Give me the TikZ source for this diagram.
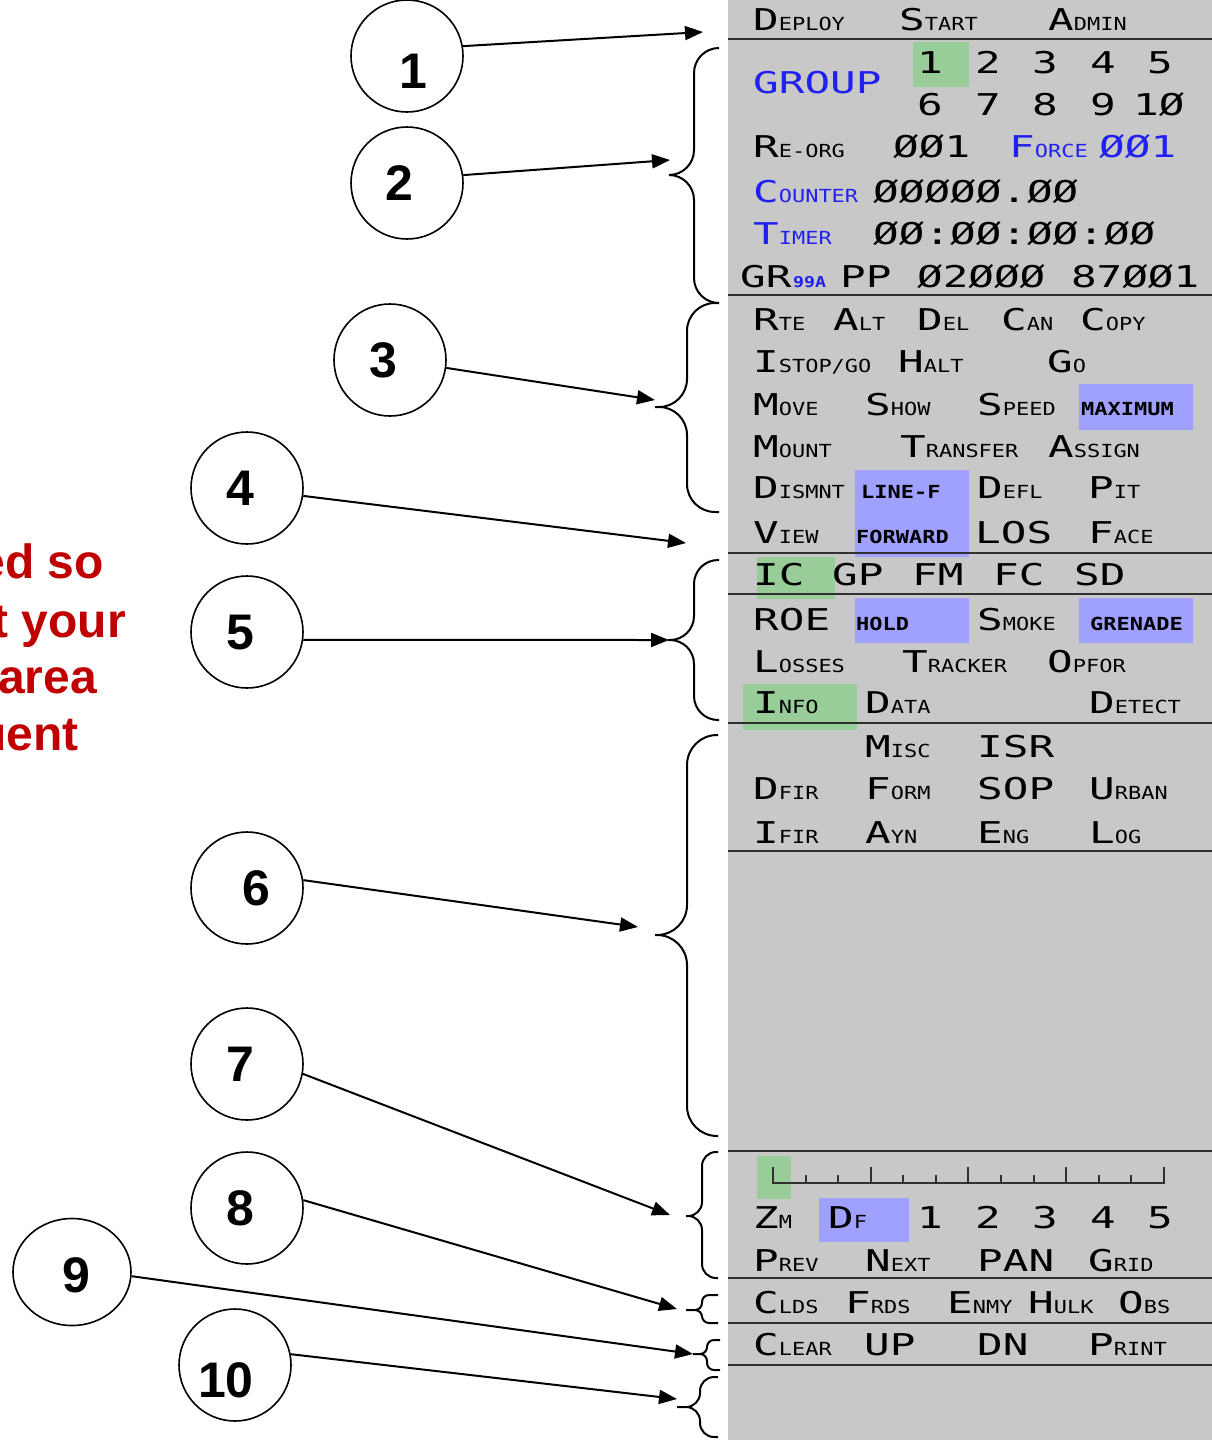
\documentclass[tikz,border=0pt]{standalone}
\usepackage{fontspec}
\usepackage{tikz}
\usetikzlibrary{arrows.meta,shapes.geometric}

\newfontfamily\panelFont[FakeStretch=1.42]{DejaVu Sans Mono}
\newfontfamily\panelSmall[FakeStretch=1.22]{DejaVu Sans Mono}
\newfontfamily\labelFont{Liberation Sans}

\definecolor{panelGray}{RGB}{200,200,200}
\definecolor{ruleGray}{RGB}{48,48,48}
\definecolor{panelBlue}{RGB}{32,32,240}
\definecolor{selGreen}{RGB}{152,204,152}
\definecolor{selBlue}{RGB}{160,160,255}
\definecolor{noteRed}{RGB}{192,0,0}

\newcommand{\bigFont}{\panelFont\fontsize{30}{30}\selectfont}
\newcommand{\smallFont}{\panelSmall\fontsize{18}{18}\selectfont}
\newcommand{\tinyFont}{\panelSmall\fontsize{15}{15}\selectfont}
\newcommand{\capWord}[2]{{\bigFont #1}{\smallFont #2}}
\newcommand{\calloutNum}[3]{\raisebox{#2}[\height][0pt]{\makebox[0pt]{\hspace{#1}#3}}}
\newcommand{\panelBrace}[7]{\draw[braceLine, rounded corners=#7] (#1,#2) -| (#5,#3) -- (#6,#3) (#6,#3) -- (#5,#3) |- (#1,#4);}

\tikzset{
  >={Triangle[length=18pt,width=14pt]},
  panelText/.style={anchor=base west, inner sep=0pt},
  callout/.style={circle, draw, line width=1.6pt, minimum size=112pt, inner sep=0pt, font=\labelFont\bfseries\fontsize{50}{50}\selectfont},
  panelRule/.style={draw=ruleGray, line width=2.5pt},
  rulerLine/.style={draw=ruleGray, line width=2.5pt},
  braceLine/.style={line width=2pt},
  note/.style={anchor=base east, inner sep=0pt, text=noteRed, font=\labelFont\bfseries\fontsize{48}{48}\selectfont},
}

\begin{document}
\begin{tikzpicture}[x=1pt, y=-1pt]
    \useasboundingbox (0,0) rectangle (1212,1440);
    \fill[white] (0,0) rectangle (1212,1440);
    \fill[panelGray] (728,0) rectangle (1212,1440);

    \fill[selGreen] (913,42) rectangle (969,87);
    \fill[selBlue] (1079,384) rectangle (1193,430);
    \fill[selBlue] (855,470) rectangle (969,557);
    \fill[selGreen] (757,557) rectangle (835,599);
    \fill[selBlue] (855,598) rectangle (969,643);
    \fill[selBlue] (1079,598) rectangle (1193,643);
    \fill[selGreen] (743,684) rectangle (857,730);
    \fill[selGreen] (757,1156) rectangle (791,1199);
    \fill[selBlue] (819,1198) rectangle (909,1242);

    \draw[panelRule] (728,39) -- (1212,39);
    \draw[panelRule] (728,295) -- (1212,295);
    \draw[panelRule] (728,553) -- (1212,553);
    \draw[panelRule] (728,594) -- (1212,594);
    \draw[panelRule] (728,723) -- (1212,723);
    \draw[panelRule] (728,851) -- (1212,851);
    \draw[panelRule] (728,1151) -- (1212,1151);
    \draw[panelRule] (728,1278) -- (1212,1278);
    \draw[panelRule] (728,1323) -- (1212,1323);
    \draw[panelRule] (728,1365) -- (1212,1365);

    \draw[rulerLine] (773,1167) -- (773,1183) -- (1164,1183) -- (1164,1167)
        (871,1167) -- (871,1183) (968,1167) -- (968,1183) (1066,1167) -- (1066,1183)
        (806,1175) -- (806,1183) (838,1175) -- (838,1183) (903,1175) -- (903,1183)
        (936,1175) -- (936,1183) (1001,1175) -- (1001,1183) (1034,1175) -- (1034,1183)
        (1099,1175) -- (1099,1183) (1131,1175) -- (1131,1183);

    \node[panelText] (deploy) at (753,30) {\capWord{D}{EPLOY}};
    \node[panelText] (start) at (899,30) {\capWord{S}{TART}};
    \node[panelText] (admin) at (1048,30) {\capWord{A}{DMIN}};

    \node[panelText, font=\bigFont, text=panelBlue] (group) at (753,93) {GROUP};
    \node[panelText, font=\bigFont] (grp1) at (917,73) {1};
    \node[panelText, font=\bigFont] (grp2) at (975,73) {2};
    \node[panelText, font=\bigFont] (grp3) at (1032,73) {3};
    \node[panelText, font=\bigFont] (grp4) at (1090,73) {4};
    \node[panelText, font=\bigFont] (grp5) at (1147,73) {5};
    \node[panelText, font=\bigFont] (grp6) at (917,115) {6};
    \node[panelText, font=\bigFont] (grp7) at (975,115) {7};
    \node[panelText, font=\bigFont] (grp8) at (1032,115) {8};
    \node[panelText, font=\bigFont] (grp9) at (1090,115) {9};
    \node[panelText, font=\bigFont] (grp10) at (1133,115) {1Ø};

    \node[panelText] (reOrg) at (753,157) {\capWord{R}{E-ORG}};
    \node[panelText, font=\bigFont] (reOrgVal) at (893,157) {ØØ1};
    \node[panelText, text=panelBlue] (force) at (1009,157) {\capWord{F}{ORCE}};
    \node[panelText, font=\bigFont, text=panelBlue] (forceVal) at (1099,157) {ØØ1};
    \node[panelText, text=panelBlue] (counter) at (753,202) {\capWord{C}{OUNTER}};
    \node[panelText, font=\bigFont] (counterVal) at (873,202) {ØØØØØ.ØØ};
    \node[panelText, text=panelBlue] (timer) at (753,244) {\capWord{T}{IMER}};
    \node[panelText, font=\bigFont] (timerVal) at (873,244) {ØØ:ØØ:ØØ:ØØ};
    \node[panelText, font=\bigFont] (grLabel) at (740,287) {GR};
    \node[panelText, font=\tinyFont\bfseries, text=panelBlue] (grSub) at (793,287) {99A};
    \node[panelText, font=\bigFont] (grVal) at (840,287) {PP Ø2ØØØ 87ØØ1};

    \node[panelText] (rte) at (753,330) {\capWord{R}{TE}};
    \node[panelText] (alt) at (833,330) {\capWord{A}{LT}};
    \node[panelText] (del) at (917,330) {\capWord{D}{EL}};
    \node[panelText] (can) at (1001,330) {\capWord{C}{AN}};
    \node[panelText] (copy) at (1080,330) {\capWord{C}{OPY}};
    \node[panelText] (istopGo) at (753,372) {\capWord{I}{STOP/GO}};
    \node[panelText] (halt) at (898,372) {\capWord{H}{ALT}};
    \node[panelText] (go) at (1047,372) {\capWord{G}{O}};
    \node[panelText] (move) at (753,415) {\capWord{M}{OVE}};
    \node[panelText] (show) at (865,415) {\capWord{S}{HOW}};
    \node[panelText] (speed) at (977,415) {\capWord{S}{PEED}};
    \node[panelText, font=\smallFont\bfseries] (maximum) at (1081,415) {MAXIMUM};
    \node[panelText] (mount) at (753,457) {\capWord{M}{OUNT}};
    \node[panelText] (transfer) at (900,457) {\capWord{T}{RANSFER}};
    \node[panelText] (assign) at (1048,457) {\capWord{A}{SSIGN}};
    \node[panelText] (dismnt) at (753,498) {\capWord{D}{ISMNT}};
    \node[panelText, font=\smallFont\bfseries] (lineF) at (861,498) {LINE-F};
    \node[panelText] (defl) at (977,498) {\capWord{D}{EFL}};
    \node[panelText] (pit) at (1088,498) {\capWord{P}{IT}};
    \node[panelText] (view) at (753,543) {\capWord{V}{IEW}};
    \node[panelText, font=\smallFont\bfseries] (forward) at (856,543) {FORWARD};
    \node[panelText, font=\bigFont] (los) at (975,543) {LOS};
    \node[panelText] (face) at (1088,543) {\capWord{F}{ACE}};

    \node[panelText, font=\bigFont] (ic) at (753,585) {IC};
    \node[panelText, font=\bigFont] (gp) at (832,585) {GP};
    \node[panelText, font=\bigFont] (fm) at (912,585) {FM};
    \node[panelText, font=\bigFont] (fc) at (993,585) {FC};
    \node[panelText, font=\bigFont] (sd) at (1074,585) {SD};
    \node[panelText, font=\bigFont] (roe) at (753,630) {ROE};
    \node[panelText, font=\smallFont\bfseries] (hold) at (856,630) {HOLD};
    \node[panelText] (smoke) at (977,630) {\capWord{S}{MOKE}};
    \node[panelText, font=\smallFont\bfseries] (grenade) at (1090,630) {GRENADE};
    \node[panelText] (losses) at (753,672) {\capWord{L}{OSSES}};
    \node[panelText] (tracker) at (902,672) {\capWord{T}{RACKER}};
    \node[panelText] (opfor) at (1047,672) {\capWord{O}{PFOR}};
    \node[panelText] (info) at (753,713) {\capWord{I}{NFO}};
    \node[panelText] (data) at (865,713) {\capWord{D}{ATA}};
    \node[panelText] (detect) at (1089,713) {\capWord{D}{ETECT}};

    \node[panelText] (misc) at (865,757) {\capWord{M}{ISC}};
    \node[panelText, font=\bigFont] (isr) at (977,757) {ISR};
    \node[panelText] (dfir) at (753,799) {\capWord{D}{FIR}};
    \node[panelText] (form) at (865,799) {\capWord{F}{ORM}};
    \node[panelText, font=\bigFont] (sop) at (977,799) {SOP};
    \node[panelText] (urban) at (1089,799) {\capWord{U}{RBAN}};
    \node[panelText] (ifir) at (753,843) {\capWord{I}{FIR}};
    \node[panelText] (ayn) at (865,843) {\capWord{A}{YN}};
    \node[panelText] (eng) at (977,843) {\capWord{E}{NG}};
    \node[panelText] (log) at (1089,843) {\capWord{L}{OG}};

    \node[panelText] (zm) at (753,1228) {\capWord{Z}{M}};
    \node[panelText] (df) at (828,1228) {\capWord{D}{F}};
    \node[panelText, font=\bigFont] (zoom1) at (917,1228) {1};
    \node[panelText, font=\bigFont] (zoom2) at (975,1228) {2};
    \node[panelText, font=\bigFont] (zoom3) at (1032,1228) {3};
    \node[panelText, font=\bigFont] (zoom4) at (1090,1228) {4};
    \node[panelText, font=\bigFont] (zoom5) at (1147,1228) {5};
    \node[panelText] (prev) at (753,1271) {\capWord{P}{REV}};
    \node[panelText] (next) at (865,1271) {\capWord{N}{EXT}};
    \node[panelText, font=\bigFont] (pan) at (977,1271) {PAN};
    \node[panelText] (grid) at (1088,1271) {\capWord{G}{RID}};
    \node[panelText] (clds) at (753,1313) {\capWord{C}{LDS}};
    \node[panelText] (frds) at (845,1313) {\capWord{F}{RDS}};
    \node[panelText] (enmy) at (947,1313) {\capWord{E}{NMY}};
    \node[panelText] (hulk) at (1028,1313) {\capWord{H}{ULK}};
    \node[panelText] (obs) at (1118,1313) {\capWord{O}{BS}};
    \node[panelText] (clear) at (753,1355) {\capWord{C}{LEAR}};
    \node[panelText, font=\bigFont] (up) at (864,1355) {UP};
    \node[panelText, font=\bigFont] (dn) at (977,1355) {DN};
    \node[panelText] (print) at (1088,1355) {\capWord{P}{RINT}};

    \node[note] (note1) at (104,578) {ed so};
    \node[note] (note2) at (126,637) {t your};
    \node[note] (note3) at (97,693) {area};
    \node[note] (note4) at (79,750) {uent};

    \node[callout] (callout1) at (407,56) {\calloutNum{12pt}{-15pt}{1}};
    \node[callout] (callout2) at (407,183) {\calloutNum{-16pt}{0pt}{2}};
    \node[callout] (callout3) at (390,360) {\calloutNum{-14pt}{0pt}{3}};
    \node[callout] (callout4) at (247,488) {\calloutNum{-14pt}{0pt}{4}};
    \node[callout] (callout5) at (247,632) {\calloutNum{-14pt}{0pt}{5}};
    \node[callout] (callout6) at (247,888) {\calloutNum{18pt}{0pt}{6}};
    \node[callout] (callout7) at (247,1064) {\calloutNum{-14pt}{0pt}{7}};
    \node[callout] (callout8) at (247,1208) {\calloutNum{-14pt}{0pt}{8}};
    \node[callout, ellipse, minimum width=118pt, minimum height=107pt] (callout9) at (72,1272) {\calloutNum{8pt}{-3pt}{9}};
    \node[callout] (callout10) at (235,1365) {\calloutNum{-18pt}{-15pt}{10}};

    \coordinate (tip1) at (703,32);
    \coordinate (tip2) at (670,160);
    \coordinate (tip3) at (655,400);
    \coordinate (tip4) at (686,543);
    \coordinate (tip5) at (669,640);
    \coordinate (tip6) at (638,927);
    \coordinate (tip7) at (670,1215);
    \coordinate (tip8) at (677,1309);
    \coordinate (tip9) at (693,1354);
    \coordinate (tip10) at (677,1399);

    \panelBrace{719}{48}{175}{303}{694}{670}{25}
    \panelBrace{719}{303}{407}{512}{687}{655}{28}
    \panelBrace{719}{560}{640}{720}{694}{668}{24}
    \panelBrace{718}{735}{935}{1136}{687}{655}{30}
    \panelBrace{718}{1152}{1216}{1278}{702}{686}{14}
    \panelBrace{718}{1295}{1310}{1323}{702}{686}{7}
    \panelBrace{720}{1340}{1354}{1370}{707}{693}{7}
    \panelBrace{718}{1377}{1407}{1437}{700}{677}{14}

\draw[->, line width=2pt] (callout1.10) -- (tip1);
\draw[->, line width=2pt] (callout2.8) -- (tip2);
\draw[->, line width=2pt] (callout3.-8) -- (tip3);
\draw[->, line width=2pt] (callout4.-8) -- (tip4);
\draw[->, line width=2pt] (callout5.-8) -- (tip5);
\draw[->, line width=2pt] (callout6.8) -- (tip6);
\draw[->, line width=2pt] (callout7.-10) -- (tip7);
\draw[->, line width=2pt] (callout8.8) -- (tip8);
\draw[->, line width=2pt] (callout9.-4) -- (tip9);
\draw[->, line width=2pt] (callout10.11) -- (tip10);

\end{tikzpicture}
\end{document}
